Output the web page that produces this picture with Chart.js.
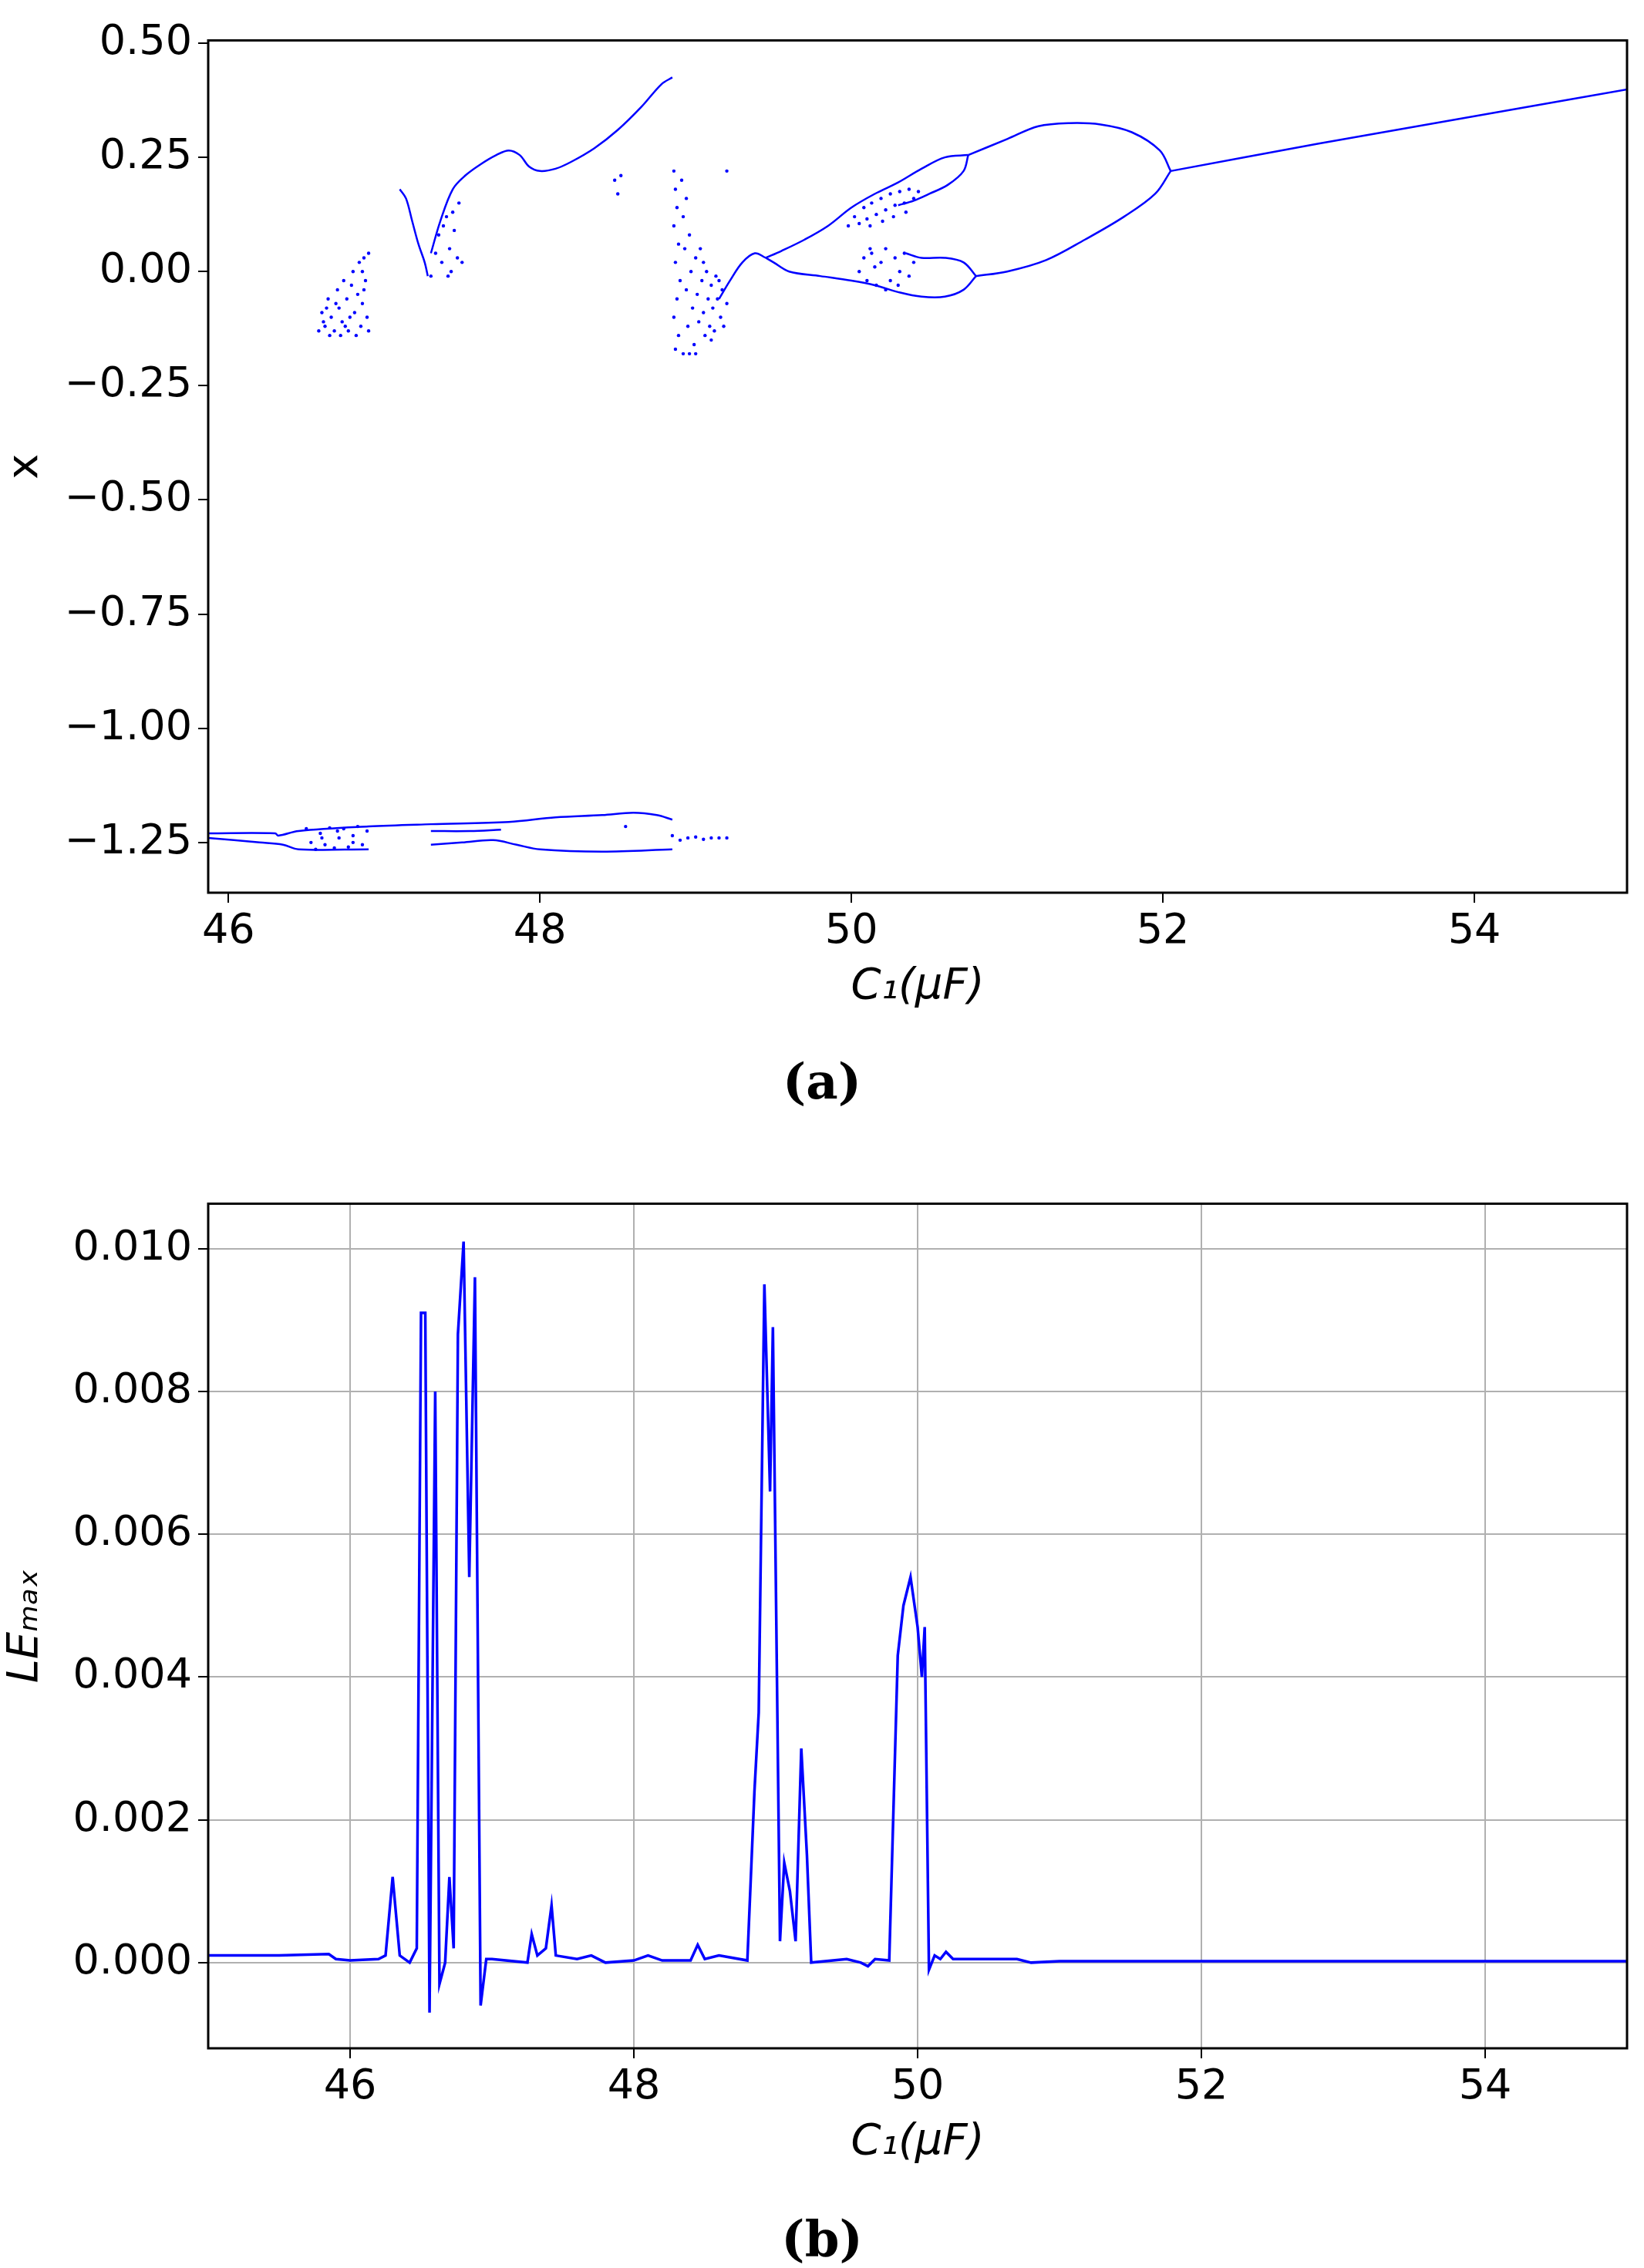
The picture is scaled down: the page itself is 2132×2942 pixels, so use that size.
<!DOCTYPE html>
<html>
<head>
<meta charset="utf-8">
<script src="https://cdn.jsdelivr.net/npm/chart.js@4"></script>
<style>
  body { margin: 0; background: #fff; width: 2132px; height: 2942px; position: relative; overflow: hidden; }
  .box { position: absolute; left: 0; width: 2132px; }
  .cap { position: absolute; left: 0; width: 2132px; text-align: center; font: bold 64px "DejaVu Serif", serif; }
</style>
</head>
<body>
<div class="box" style="top:12px;height:1330px"><canvas id="bifChart"></canvas></div>
<div class="cap" style="top:1365px">(a)</div>
<div class="box" style="top:1521px;height:1320px"><canvas id="leChart"></canvas></div>
<div class="cap" style="top:2866px">(b)</div>
<script>
// tick labels
let bifXTicks = [46, 48, 50, 52, 54];
let bifYTicks = [-1.25, -1.00, -0.75, -0.50, -0.25, 0.00, 0.25, 0.50];
let leXTicks = [46, 48, 50, 52, 54];
let leYTicks = [0.000, 0.002, 0.004, 0.006, 0.008, 0.010];

// bifurcation branches (C1, x)
let dipBranch = [[47.1,0.18],[47.14,0.16],[47.18,0.11],[47.22,0.06],[47.26,0.02],[47.28,-0.01]];
let upperBranch = [[47.3,0.04],[47.36,0.11],[47.44,0.18],[47.52,0.21],[47.62,0.235],[47.72,0.255],[47.8,0.265],[47.87,0.255],[47.93,0.23],[48.0,0.22],[48.1,0.225],[48.2,0.24],[48.35,0.27],[48.5,0.31],[48.65,0.36],[48.78,0.41],[48.85,0.425]];
let period1 = [[52.05,0.22],[53.0,0.28],[54.0,0.34],[55.0,0.40]];
let bigLoopUpper = [[52.05,0.22],[51.98,0.265],[51.8,0.305],[51.6,0.322],[51.4,0.325],[51.2,0.318],[51.0,0.29],[50.75,0.255]];
let bigLoopLower = [[52.05,0.22],[51.95,0.17],[51.75,0.12],[51.5,0.07],[51.25,0.025],[51.0,0.0],[50.8,-0.01]];
let upLoopTop = [[50.75,0.255],[50.6,0.25],[50.45,0.225],[50.3,0.195],[50.15,0.17],[50.0,0.14],[49.85,0.1],[49.7,0.07],[49.55,0.045],[49.45,0.03]];
let upLoopBottom = [[50.75,0.255],[50.72,0.22],[50.62,0.19],[50.5,0.17],[50.4,0.155],[50.3,0.145]];
let lowLoopTop = [[50.8,-0.01],[50.72,0.02],[50.6,0.03],[50.45,0.03],[50.35,0.04]];
let lowLoopBottom = [[50.8,-0.01],[50.72,-0.04],[50.6,-0.055],[50.45,-0.055],[50.3,-0.045],[50.15,-0.03],[50.0,-0.02],[49.8,-0.01],[49.6,0.0],[49.5,0.02],[49.45,0.03]];
let stemBranch = [[49.15,-0.06],[49.22,-0.02],[49.3,0.02],[49.38,0.04],[49.45,0.03]];
let lowUpper = [[45.87,-1.23],[46.3,-1.23],[46.32,-1.235],[46.45,-1.225],[46.9,-1.215],[47.3,-1.21],[47.8,-1.205],[48.1,-1.195],[48.4,-1.19],[48.6,-1.185],[48.75,-1.19],[48.85,-1.2]];
let lowLower = [[45.87,-1.24],[46.2,-1.25],[46.35,-1.255],[46.45,-1.265],[46.9,-1.265]];
let lowMiddle = [[47.3,-1.255],[47.5,-1.25],[47.7,-1.245],[47.85,-1.255],[48.0,-1.265],[48.4,-1.27],[48.85,-1.265]];
let lowShort = [[47.3,-1.225],[47.55,-1.225],[47.75,-1.222]];

// chaotic clouds
let cloudA = [[46.58,-0.13],[46.6,-0.09],[46.62,-0.12],[46.64,-0.06],[46.66,-0.1],[46.68,-0.13],[46.7,-0.04],[46.71,-0.08],[46.73,-0.11],[46.74,-0.02],[46.76,-0.06],[46.77,-0.13],[46.79,-0.03],[46.8,0.0],[46.81,-0.09],[46.83,-0.05],[46.84,0.02],[46.85,-0.12],[46.86,-0.07],[46.87,0.03],[46.88,-0.02],[46.89,-0.1],[46.9,0.04],[46.9,-0.13],[46.72,-0.14],[46.65,-0.14],[46.82,-0.14],[46.78,-0.1],[46.87,-0.04],[46.63,-0.08],[46.69,-0.07],[46.75,-0.12],[46.61,-0.11],[46.86,0.0]];
let cloudB = [[47.3,-0.01],[47.33,0.04],[47.35,0.08],[47.37,0.02],[47.4,0.12],[47.42,0.05],[47.43,0.0],[47.45,0.09],[47.47,0.03],[47.48,0.15],[47.5,0.02],[47.38,0.1],[47.44,0.13],[47.41,-0.01],[48.48,0.2],[48.5,0.17],[48.52,0.21],[49.2,0.22]];
let cloudC = [[48.86,0.22],[48.87,0.18],[48.88,0.14],[48.86,0.1],[48.89,0.06],[48.87,0.02],[48.9,-0.02],[48.88,-0.06],[48.86,-0.1],[48.89,-0.14],[48.87,-0.17],[48.92,0.12],[48.93,0.05],[48.94,-0.04],[48.95,-0.12],[48.96,0.08],[48.97,0.0],[48.98,-0.08],[48.99,-0.16],[49.0,0.03],[49.01,-0.05],[49.02,-0.11],[49.03,0.05],[49.04,-0.02],[49.05,-0.09],[49.06,-0.14],[49.07,0.0],[49.08,-0.06],[49.09,-0.12],[49.1,-0.03],[49.11,-0.08],[49.12,-0.13],[49.13,-0.01],[49.14,-0.06],[49.16,-0.1],[49.17,-0.04],[49.18,-0.12],[49.2,-0.07],[48.91,0.2],[48.94,0.16],[48.96,-0.18],[49.0,-0.18],[48.92,-0.18],[49.05,0.02],[49.1,-0.15],[49.15,-0.02]];
let cloudD = [[49.98,0.1],[50.02,0.12],[50.05,0.105],[50.08,0.14],[50.1,0.115],[50.13,0.15],[50.16,0.125],[50.19,0.16],[50.22,0.135],[50.25,0.17],[50.28,0.145],[50.31,0.175],[50.34,0.15],[50.37,0.18],[50.4,0.16],[50.43,0.175],[50.12,0.1],[50.2,0.11],[50.27,0.12],[50.35,0.13]];
let cloudE = [[50.05,0.0],[50.08,0.03],[50.1,-0.02],[50.13,0.04],[50.16,-0.03],[50.19,0.02],[50.22,0.05],[50.25,-0.02],[50.28,0.03],[50.31,0.0],[50.34,0.04],[50.37,-0.01],[50.4,0.02],[50.15,0.01],[50.22,-0.04],[50.3,-0.03],[50.12,0.05]];
let cloudF = [[46.5,-1.22],[46.53,-1.25],[46.56,-1.265],[46.59,-1.23],[46.62,-1.255],[46.65,-1.218],[46.68,-1.262],[46.71,-1.24],[46.74,-1.22],[46.77,-1.26],[46.8,-1.235],[46.83,-1.215],[46.86,-1.255],[46.89,-1.225],[46.6,-1.24],[46.7,-1.225],[46.8,-1.25],[48.85,-1.235],[48.9,-1.245],[48.95,-1.24],[49.0,-1.238],[49.05,-1.243],[49.1,-1.24],[49.15,-1.24],[49.2,-1.24],[48.55,-1.215]];

// largest Lyapunov exponent (C1, LEmax)
let leC1 = [45.0,45.5,45.85,45.9,46.0,46.2,46.25,46.3,46.35,46.42,46.47,46.5,46.53,46.56,46.6,46.63,46.67,46.7,46.73,46.76,46.8,46.84,46.88,46.92,46.96,47.0,47.25,47.28,47.32,47.38,47.42,47.45,47.6,47.7,47.8,48.0,48.1,48.2,48.3,48.4,48.45,48.5,48.6,48.8,48.85,48.88,48.92,48.96,48.98,49.03,49.06,49.1,49.14,49.18,49.22,49.25,49.5,49.6,49.65,49.7,49.8,49.86,49.9,49.95,50.0,50.03,50.05,50.08,50.12,50.16,50.2,50.25,50.5,50.7,50.8,51.0,52.0,53.0,54.0,55.0];
let leMax = [0.0001,0.0001,0.00012,0.00005,0.00003,0.00005,0.0001,0.0012,0.0001,0.0,0.0002,0.0091,0.0091,-0.0007,0.008,-0.0003,0.0,0.0012,0.0002,0.0088,0.0101,0.0054,0.0096,-0.0006,0.00005,0.00005,0.0,0.0004,0.0001,0.0002,0.0008,0.0001,0.00005,0.0001,0.0,0.00003,0.0001,0.00003,0.00003,0.00003,0.00025,0.00005,0.0001,0.00003,0.0024,0.0035,0.0095,0.0066,0.0089,0.0003,0.0014,0.001,0.0003,0.003,0.0015,0.0,0.00005,0.0,-0.00005,0.00005,0.00003,0.0043,0.005,0.0054,0.0047,0.004,0.0047,-0.0001,0.0001,0.00005,0.00015,0.00005,0.00005,0.00005,0.0,0.00002,0.00002,0.00002,0.00002,0.00002];

const FONT = "'DejaVu Sans', sans-serif";
Chart.defaults.font.family = FONT;
Chart.defaults.animation = false;

const frame = {
    id: "frame",
    afterDraw(chart) {
        let a = chart.chartArea, c = chart.ctx;
        c.save();
        c.strokeStyle = "#000";
        c.lineWidth = 3;
        c.strokeRect(a.left, a.top, a.right - a.left, a.bottom - a.top);
        c.restore();
    }
};

function pts(arr) { return arr.map(p => ({ x: p[0], y: p[1] })); }
function fmt(v, d) { return (v < 0 ? "\u2212" : "") + Math.abs(v).toFixed(d); }

function branch(arr) {
    return { data: pts(arr), showLine: true, borderColor: "#0000ff", borderWidth: 2.5, pointRadius: 0, tension: 0.35 };
}
function cloud(arr) {
    return { data: pts(arr), showLine: false, backgroundColor: "#0000ff", borderWidth: 0, pointRadius: 2.2 };
}

function axes(xTicks, yTicks, xr, yr, digits, grid, yTitle, yItalic) {
    return {
        x: {
            type: "linear", min: xr[0], max: xr[1],
            afterBuildTicks: s => { s.ticks = xTicks.map(v => ({ value: v })); },
            afterFit: s => { s.height = 156; },
            ticks: { color: "#000", font: { size: 54 }, padding: 6, callback: v => String(v) },
            grid: { display: true, drawOnChartArea: grid, color: "#b0b0b0", lineWidth: 2, tickLength: 13, tickColor: "#000", tickWidth: 2 },
            border: { display: false },
            title: { display: true, text: "C\u2081(\u03BCF)", color: "#000", font: { size: 56, style: "italic" }, padding: { top: 0, bottom: 0 } }
        },
        y: {
            type: "linear", min: yr[0], max: yr[1],
            afterBuildTicks: s => { s.ticks = yTicks.map(v => ({ value: v })); },
            afterFit: s => { s.width = 270; },
            ticks: { color: "#000", font: { size: 54 }, padding: 8, callback: v => fmt(v, digits) },
            grid: { display: true, drawOnChartArea: grid, color: "#b0b0b0", lineWidth: 2, tickLength: 13, tickColor: "#000", tickWidth: 2 },
            border: { display: false },
            title: { display: true, text: yTitle, color: "#000", font: { size: 56, style: yItalic ? "italic" : "normal" }, padding: { top: 0, bottom: 0 } }
        }
    };
}

new Chart(document.getElementById("bifChart"), {
    type: "scatter",
    data: {
        datasets: [dipBranch, upperBranch, period1, bigLoopUpper, bigLoopLower, upLoopTop, upLoopBottom,
            lowLoopTop, lowLoopBottom, stemBranch, lowUpper, lowLower, lowMiddle, lowShort].map(branch)
            .concat([cloudA, cloudB, cloudC, cloudD, cloudE, cloudF].map(cloud))
    },
    options: {
        responsive: true, maintainAspectRatio: false,
        layout: { padding: { top: 0, right: 22, left: 0, bottom: 28 } },
        plugins: { legend: { display: false }, tooltip: { enabled: false } },
        scales: axes(bifXTicks, bifYTicks, [45.87, 54.98], [-1.36, 0.506], 2, false, "x", false)
    },
    plugins: [frame]
});

new Chart(document.getElementById("leChart"), {
    type: "line",
    data: {
        datasets: [{
            data: leC1.map((c, i) => ({ x: c, y: leMax[i] })),
            borderColor: "#0000ff", borderWidth: 3.5, pointRadius: 0, tension: 0
        }]
    },
    options: {
        responsive: true, maintainAspectRatio: false,
        layout: { padding: { top: 0, right: 22, left: 0, bottom: 28 } },
        plugins: { legend: { display: false }, tooltip: { enabled: false } },
        scales: axes(leXTicks, leYTicks, [45, 55], [-0.0012, 0.01063], 3, true, "LE\u2098\u2090\u2093", true)
    },
    plugins: [frame]
});
</script>
</body>
</html>
